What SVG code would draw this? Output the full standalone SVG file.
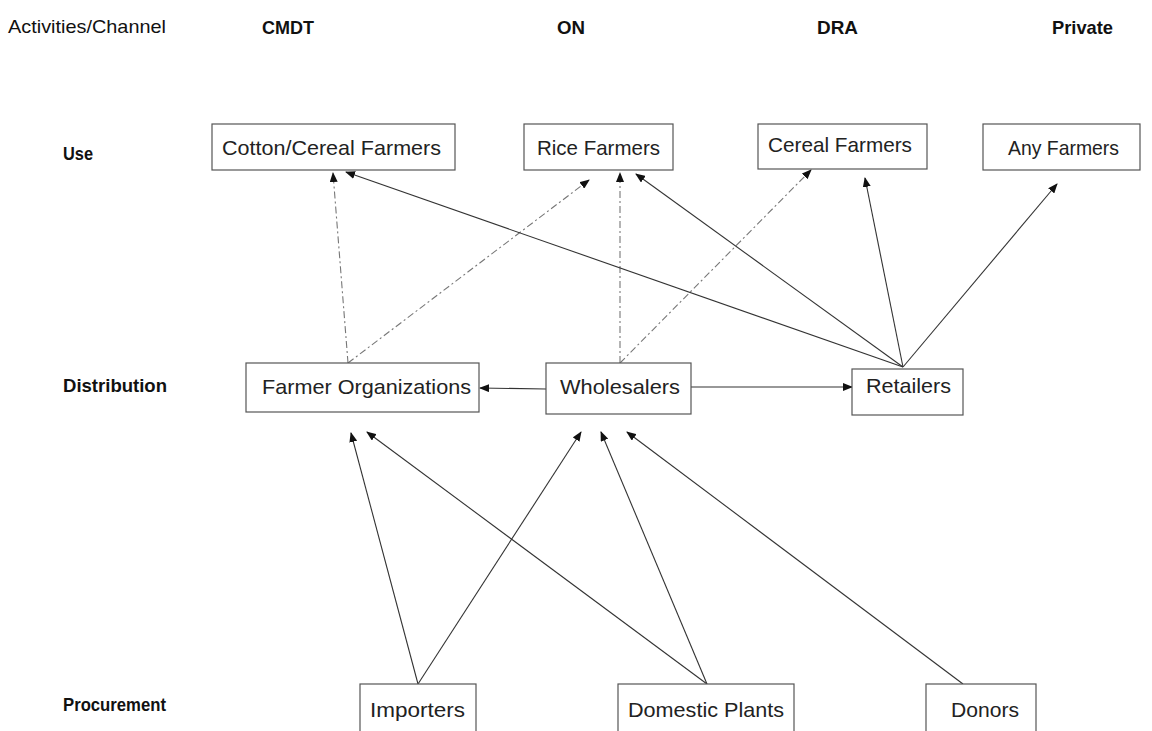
<svg xmlns="http://www.w3.org/2000/svg" width="1152" height="731" viewBox="0 0 1152 731">
<style>
.t{font-family:"Liberation Sans",Arial,sans-serif;font-size:21px;fill:#222;}
.h{font-family:"Liberation Sans",Arial,sans-serif;font-size:19px;fill:#111;}
.b{font-weight:bold;}
.box{fill:#fff;stroke:#555;stroke-width:1.2;}
.s{stroke:#333;stroke-width:1.1;fill:none;marker-end:url(#ah);}
.d{stroke:#777;stroke-width:1.1;fill:none;stroke-dasharray:7 3 2 3;marker-end:url(#ah);}
</style>
<defs>
<marker id="ah" markerUnits="userSpaceOnUse" markerWidth="10" markerHeight="8" refX="9" refY="4" orient="auto">
<path d="M0,0 L10,4 L0,8 z" fill="#111"/>
</marker>
</defs>
<rect width="1152" height="731" fill="#fff"/>
<g id="headers">
<text class="h" x="8" y="33" textLength="158" lengthAdjust="spacingAndGlyphs">Activities/Channel</text>
<text class="h b" x="262" y="34" textLength="52" lengthAdjust="spacingAndGlyphs">CMDT</text>
<text class="h b" x="557" y="34" textLength="28" lengthAdjust="spacingAndGlyphs">ON</text>
<text class="h b" x="817" y="34" textLength="41" lengthAdjust="spacingAndGlyphs">DRA</text>
<text class="h b" x="1052" y="34" textLength="61" lengthAdjust="spacingAndGlyphs">Private</text>
<text class="h b" x="63" y="160" textLength="30" lengthAdjust="spacingAndGlyphs">Use</text>
<text class="h b" x="63" y="392" textLength="104" lengthAdjust="spacingAndGlyphs">Distribution</text>
<text class="h b" x="63" y="711" textLength="103" lengthAdjust="spacingAndGlyphs">Procurement</text>
</g>
<g id="connectors">
<line class="d" x1="348" y1="363" x2="333" y2="173"/>
<line class="d" x1="348" y1="363" x2="589" y2="180"/>
<line class="d" x1="620" y1="363" x2="620" y2="173"/>
<line class="d" x1="620" y1="363" x2="811" y2="170"/>
<line class="s" x1="903" y1="367" x2="346" y2="172"/>
<line class="s" x1="903" y1="367" x2="636" y2="174"/>
<line class="s" x1="903" y1="367" x2="865" y2="178"/>
<line class="s" x1="903" y1="367" x2="1057" y2="184"/>
<line class="s" x1="546" y1="389" x2="480" y2="388"/>
<line class="s" x1="691" y1="387" x2="852" y2="387"/>
<line class="s" x1="418" y1="684" x2="351" y2="433"/>
<line class="s" x1="418" y1="684" x2="581" y2="432"/>
<line class="s" x1="707" y1="684" x2="367" y2="432"/>
<line class="s" x1="707" y1="684" x2="601" y2="432"/>
<line class="s" x1="963" y1="684" x2="627" y2="432"/>
</g>
<g id="cotton-cereal-farmers">
<rect class="box" x="212" y="124" width="243" height="46"/>
<text class="t" x="222" y="155" textLength="219" lengthAdjust="spacingAndGlyphs">Cotton/Cereal Farmers</text>
</g>
<g id="rice-farmers">
<rect class="box" x="524" y="124" width="149" height="46"/>
<text class="t" x="537" y="155" textLength="123" lengthAdjust="spacingAndGlyphs">Rice Farmers</text>
</g>
<g id="cereal-farmers">
<rect class="box" x="758" y="124" width="169" height="45"/>
<text class="t" x="768" y="152" textLength="144" lengthAdjust="spacingAndGlyphs">Cereal Farmers</text>
</g>
<g id="any-farmers">
<rect class="box" x="983" y="124" width="157" height="46"/>
<text class="t" x="1008" y="155" textLength="111" lengthAdjust="spacingAndGlyphs">Any Farmers</text>
</g>
<g id="farmer-organizations">
<rect class="box" x="246" y="363" width="233" height="49"/>
<text class="t" x="262" y="394" textLength="209" lengthAdjust="spacingAndGlyphs">Farmer Organizations</text>
</g>
<g id="wholesalers">
<rect class="box" x="546" y="363" width="145" height="51"/>
<text class="t" x="560" y="394" textLength="120" lengthAdjust="spacingAndGlyphs">Wholesalers</text>
</g>
<g id="retailers">
<rect class="box" x="852" y="369" width="111" height="46"/>
<text class="t" x="866" y="393" textLength="85" lengthAdjust="spacingAndGlyphs">Retailers</text>
</g>
<g id="importers">
<rect class="box" x="360" y="684" width="116" height="60"/>
<text class="t" x="370" y="717" textLength="95" lengthAdjust="spacingAndGlyphs">Importers</text>
</g>
<g id="domestic-plants">
<rect class="box" x="618" y="684" width="176" height="60"/>
<text class="t" x="628" y="717" textLength="156" lengthAdjust="spacingAndGlyphs">Domestic Plants</text>
</g>
<g id="donors">
<rect class="box" x="926" y="684" width="110" height="60"/>
<text class="t" x="951" y="717" textLength="68" lengthAdjust="spacingAndGlyphs">Donors</text>
</g>
</svg>
